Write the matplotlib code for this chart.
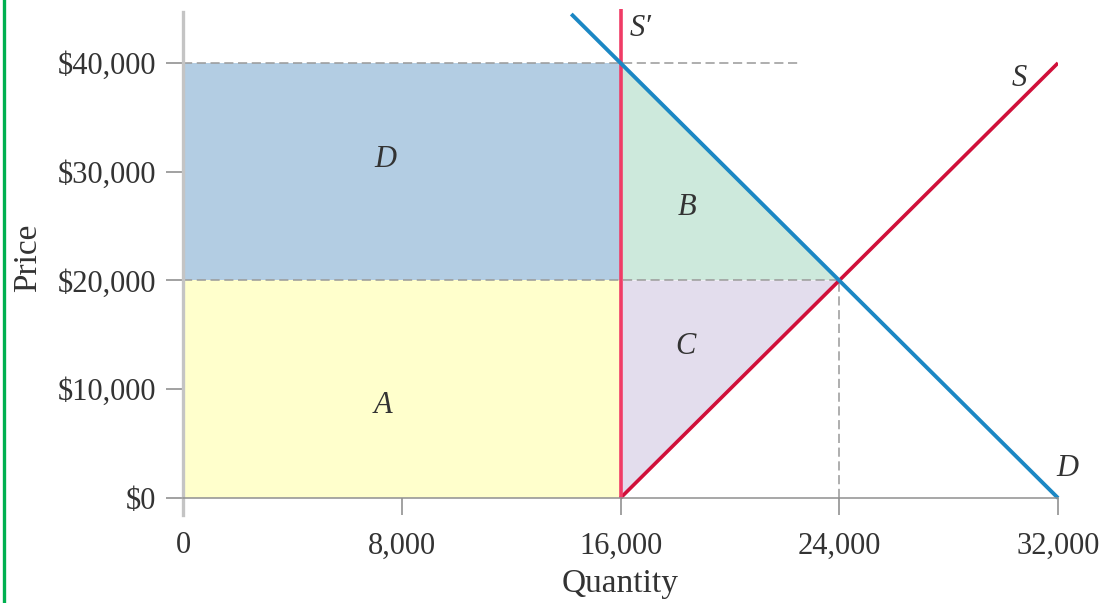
import matplotlib
matplotlib.use('Agg')
import matplotlib.pyplot as plt
from matplotlib.lines import Line2D

# curves (quantity, price)
demand_q = [14200, 32000]
demand_p = [44500, 0]
supply_q = [16000, 32000]
supply_p = [0, 40000]
quota_q = [16000, 16000]
quota_p = [0, 45000]

q_quota = 16000
q_eq = 24000
p_quota = 40000
p_eq = 20000

xticks = [0, 8000, 16000, 24000, 32000]
xlabels = ["0", "8,000", "16,000", "24,000", "32,000"]
yticks = [0, 10000, 20000, 30000, 40000]
ylabels = ["$0", "$10,000", "$20,000", "$30,000", "$40,000"]

plt.rcParams['font.family'] = ['Liberation Serif', 'DejaVu Serif']

fig = plt.figure(figsize=(11.18, 6.03), dpi=100)
# data 0..32000 -> px 183..1058, price -1600..45000 -> px 515..9
ax = fig.add_axes([183/1118, (603-515.4)/603, 875/1118, (515.4-8.6)/603])
ax.set_xlim(0, 32000)
ax.set_ylim(-1600, 45000)

# shaded areas
ax.fill_between([0, q_quota], p_eq, p_quota, color="#b3cde3", lw=0)
ax.fill_between([0, q_quota], 0, p_eq, color="#ffffcc", lw=0)
ax.fill([q_quota, q_quota, q_eq], [p_quota, p_eq, p_eq], color="#cde9dc", lw=0)
ax.fill([q_quota, q_quota, q_eq], [p_eq, 0, p_eq], color="#e3dded", lw=0)

# dashed guide lines
dash = dict(color="#999999", lw=1.1, ls=(0, (6, 3)))
ax.plot([0, 22540], [p_quota, p_quota], **dash)
ax.plot([0, q_eq], [p_eq, p_eq], **dash)
ax.plot([q_eq, q_eq], [0, p_eq], **dash)

ax.plot(supply_q, supply_p, color="#d0103a", lw=2.6, solid_capstyle='butt')
ax.plot(quota_q, quota_p, color="#f03c66", lw=2.6, solid_capstyle='butt', clip_on=False)
ax.plot(demand_q, demand_p, color="#1b87c4", lw=2.8, solid_capstyle='butt', clip_on=False)

# labels in the chart
lab = dict(fontsize=22, style='italic', color="#333333", ha='center', va='center')
ax.text(7400, 31100, "D", **lab)
ax.text(18450, 26750, "B", **lab)
ax.text(18380, 13900, "C", **lab)
ax.text(7300, 8550, "A", **lab)
ax.text(16750, 43200, "S\u2032", **lab)
ax.text(30580, 38600, "S", **lab)
ax.text(32330, 2750, "D", clip_on=False, **lab)

# axes styling
for s in ['top', 'right']:
    ax.spines[s].set_visible(False)
ax.spines['bottom'].set_position(('data', 0))
ax.spines['bottom'].set_color("#909090")
ax.spines['bottom'].set_linewidth(1.1)
ax.spines['left'].set_color("#c4c4c4")
ax.spines['left'].set_linewidth(2.4)
ax.spines['left'].set_bounds(-1600, 44700)

ax.set_xticks(xticks)
ax.set_xticklabels(xlabels)
ax.set_yticks(yticks)
ax.set_yticklabels(ylabels)
ax.tick_params(axis='both', direction='out', length=12, width=1.1, color="#888888",
               labelsize=22, labelcolor="#333333")
ax.tick_params(axis='x', pad=12)
ax.tick_params(axis='y', pad=7)

fig.text(620/1118, 1 - 584/603, "Quantity", fontsize=24, color="#333333", ha='center', va='center')
fig.text(28/1118, 1 - 258/603, "Price", fontsize=24, color="#333333", ha='center', va='center', rotation=90)

# green border on the left
fig.add_artist(Line2D([4/1118, 4/1118], [0, 1], color="#00b050", lw=2.4, transform=fig.transFigure))

fig.savefig("out.png", dpi=100)
